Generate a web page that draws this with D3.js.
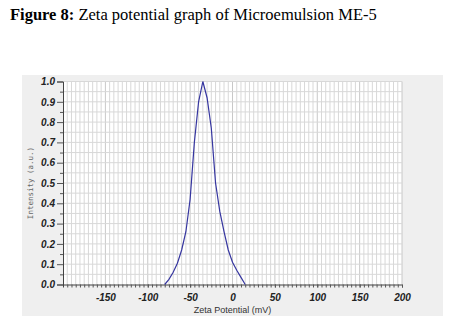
<!DOCTYPE html>
<html>
<head>
<meta charset="utf-8">
<script src="https://cdn.jsdelivr.net/npm/d3@7"></script>
<style>
  html, body { margin: 0; padding: 0; background: #fff; }
  svg { display: block; }
</style>
</head>
<body>
<svg id="chart" width="453" height="326"></svg>
<script>
// Zeta potential distribution of microemulsion ME-5
const zeta = [-80, -75, -70, -65, -60, -55, -50, -45, -40, -35, -30, -25, -20, -15, -10, -5, 0, 5, 10, 15];
const intensity = [0.0, 0.025, 0.06, 0.105, 0.17, 0.26, 0.42, 0.70, 0.90, 1.0, 0.92, 0.77, 0.50, 0.36, 0.26, 0.17, 0.11, 0.07, 0.035, 0.0];

const xTicks = [-150, -100, -50, 0, 50, 100, 150, 200];
const yTicks = [0.0, 0.1, 0.2, 0.3, 0.4, 0.5, 0.6, 0.7, 0.8, 0.9, 1.0];

const svg = d3.select("#chart");

// Title
const title = svg.append("text")
  .attr("x", 10).attr("y", 20)
  .style("font-family", "'Liberation Serif', 'Times New Roman', serif")
  .style("font-size", "16.5px")
  .attr("fill", "#000");
title.append("tspan").style("font-weight", "bold").text("Figure 8:");
title.append("tspan").text(" Zeta potential graph of Microemulsion ME-5");

// Grey panel behind the plot
svg.append("rect")
  .attr("x", 22).attr("y", 75).attr("width", 421).attr("height", 241)
  .attr("fill", "#efefef");

const x = d3.scaleLinear().domain([-200, 200]).range([63, 402]);
const y = d3.scaleLinear().domain([0, 1]).range([284.5, 81.5]);

// Plot area
svg.append("rect")
  .attr("x", x(-200)).attr("y", y(1))
  .attr("width", x(200) - x(-200)).attr("height", y(0) - y(1))
  .attr("fill", "#fff");

const grid = svg.append("g");
// vertical grid every 5 mV
d3.range(-195, 201, 5).forEach(v => {
  grid.append("line")
    .attr("x1", x(v)).attr("x2", x(v))
    .attr("y1", y(0)).attr("y2", y(1))
    .attr("stroke", v % 50 === 0 ? "#c8c8c8" : "#d8d8d8")
    .attr("stroke-width", 1);
});
// horizontal grid every 0.05
d3.range(1, 21).forEach(i => {
  const v = i * 0.05;
  grid.append("line")
    .attr("x1", x(-200)).attr("x2", x(200))
    .attr("y1", y(v)).attr("y2", y(v))
    .attr("stroke", "#d8d8d8")
    .attr("stroke-width", 1);
});

// Axes
const tickFont = g => g.selectAll("text")
  .style("font-family", "'Liberation Sans', Arial, sans-serif")
  .style("font-size", "10px")
  .style("font-weight", "bold")
  .style("font-style", "italic")
  .attr("fill", "#222");

const xAxis = d3.axisBottom(x)
  .tickValues(xTicks)
  .tickFormat(d => d < 0 ? "-" + Math.abs(d) : String(d))
  .tickSize(3).tickPadding(6);
const gx = svg.append("g").attr("transform", `translate(0,${y(0)})`).call(xAxis);
gx.select(".domain").attr("stroke", "#444");
gx.selectAll(".tick line").attr("stroke", "#555");
tickFont(gx);
gx.selectAll("text").attr("dy", "0.71em");

// minor x ticks
const xMinor = svg.append("g").attr("transform", `translate(0,${y(0)})`)
  .call(d3.axisBottom(x).tickValues(d3.range(-195, 200, 5)).tickSize(3).tickFormat(""));
xMinor.select(".domain").remove();
xMinor.selectAll(".tick line").attr("stroke", "#555");

const yAxis = d3.axisLeft(y)
  .tickValues(yTicks)
  .tickFormat(d3.format(".1f"))
  .tickSize(6).tickPadding(2);
const gy = svg.append("g").attr("transform", `translate(${x(-200)},0)`).call(yAxis);
gy.select(".domain").attr("stroke", "#444");
gy.selectAll(".tick line").attr("stroke", "#555");
tickFont(gy);

// minor y ticks
const yMinor = svg.append("g").attr("transform", `translate(${x(-200)},0)`)
  .call(d3.axisLeft(y).tickValues(d3.range(0.05, 1, 0.1)).tickSize(3).tickFormat(""));
yMinor.select(".domain").remove();
yMinor.selectAll(".tick line").attr("stroke", "#555");

// Axis titles
svg.append("text")
  .attr("x", x(0)).attr("y", 313)
  .attr("text-anchor", "middle")
  .style("font-family", "'Liberation Sans', Arial, sans-serif")
  .style("font-size", "9px")
  .attr("fill", "#333")
  .text("Zeta Potential (mV)");

svg.append("text")
  .attr("transform", `translate(33,${(y(0) + y(1)) / 2}) rotate(-90)`)
  .attr("text-anchor", "middle")
  .style("font-family", "'DejaVu Sans Mono', 'Liberation Mono', monospace")
  .style("font-size", "7.5px")
  .attr("fill", "#666")
  .text("Intensity (a.u.)");

// Distribution curve
const line = d3.line()
  .x((d, i) => x(zeta[i]))
  .y((d, i) => y(intensity[i]));
svg.append("path")
  .datum(zeta)
  .attr("d", line)
  .attr("fill", "none")
  .attr("stroke", "#3636a0")
  .attr("stroke-width", 1.2);
</script>
</body>
</html>
